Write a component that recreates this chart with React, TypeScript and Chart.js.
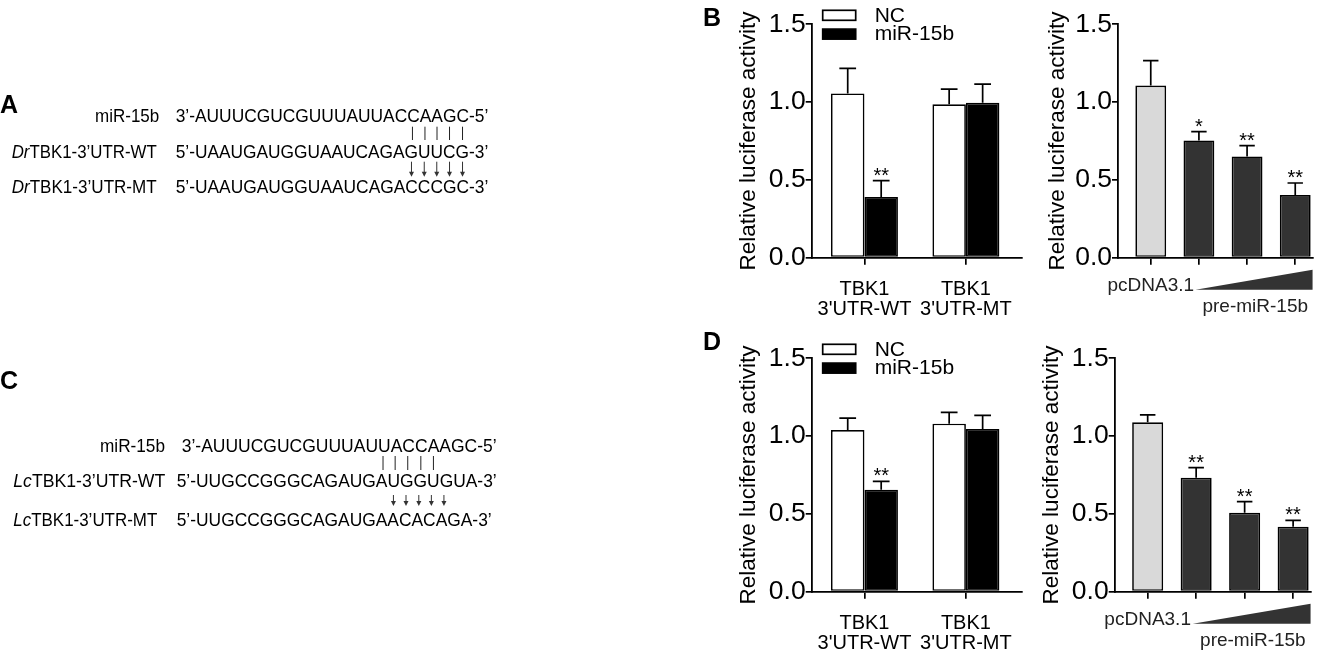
import React, { useEffect, useRef } from "react";
import { Chart, registerables } from "chart.js";

Chart.register(...registerables);

const FONT = "'Liberation Sans', Arial, Helvetica, sans-serif";

// ---------------- data ----------------
const groupLabels: string[][] = [["TBK1", "3'UTR-WT"], ["TBK1", "3'UTR-MT"]];
const seriesNames = ["NC", "miR-15b"];
const doseLabels = ["pcDNA3.1", "", "", ""];
const doseCaption = "pre-miR-15b";
const yTicks = [0, 0.5, 1.0, 1.5];
const yTitle = "Relative luciferase activity";

// Panel B
const bNC = [1.056, 0.986];
const bNCSd = [0.161, 0.098];
const bNCStars = ["", ""];
const bMiR = [0.39, 0.996];
const bMiRSd = [0.105, 0.12];
const bMiRStars = ["**", ""];
const bDose = [1.106, 0.754, 0.651, 0.403];
const bDoseSd = [0.16, 0.056, 0.069, 0.077];
const bDoseStars = ["", "*", "**", "**"];

// Panel D
const dNC = [1.039, 1.08];
const dNCSd = [0.077, 0.073];
const dNCStars = ["", ""];
const dMiR = [0.656, 1.046];
const dMiRSd = [0.053, 0.087];
const dMiRStars = ["**", ""];
const dDose = [1.089, 0.733, 0.508, 0.418];
const dDoseSd = [0.047, 0.064, 0.071, 0.041];
const dDoseStars = ["", "**", "**", "**"];

// Sequences (panels A and C)
const mirLabel = "miR-15b";
const mirSeq = "AUUUCGUCGUUUAUUACCAAGC";
const drWT = "UAAUGAUGGUAAUCAGAGUUCG";
const drMT = "UAAUGAUGGUAAUCAGACCCGC";
const lcWT = "UUGCCGGGCAGAUGAUGGUGUA";
const lcMT = "UUGCCGGGCAGAUGAACACAGA";
const drPairIdx = [17, 18, 19, 20, 21];
const drMutIdx = [17, 18, 19, 20, 21];
const lcPairIdx = [14, 15, 16, 17, 18];
const lcMutIdx = [15, 16, 17, 18, 19];

const NC_FILL = "#ffffff";
const MIR_FILL = "#000000";
const DOSE_FILLS = ["#d9d9d9", "#333333", "#333333", "#333333"];

// ---------------- chart helpers ----------------
type BarSeries = { name: string; values: number[]; sd: number[]; stars: string[]; fill: string | string[] };

interface PanelSpec {
  kind: "group" | "dose";
  left: number; top: number; width: number; height: number;
  padLeft: number; padRight: number; padTop: number;
  yWidth: number; xHeight: number;
  xMin: number; xMax: number;
  xLabels: (string | string[])[];
  series: BarSeries[];
  catPct: number; barPct: number;
  xFontSize: number; xPadding: number; xLineHeight: number; xColor: string;
}

function errorBarPlugin(series: BarSeries[]) {
  return {
    id: "errbars",
    afterDatasetsDraw(chart: any) {
      const ctx = chart.ctx;
      const ys = chart.scales.y;
      series.forEach((s, di) => {
        const meta = chart.getDatasetMeta(di);
        meta.data.forEach((el: any, i: number) => {
          const topPx = ys.getPixelForValue(s.values[i] + s.sd[i]);
          const half = el.width / 4;
          ctx.save();
          ctx.strokeStyle = "#000";
          ctx.lineWidth = 1.7;
          ctx.beginPath();
          ctx.moveTo(el.x, el.y);
          ctx.lineTo(el.x, topPx);
          ctx.moveTo(el.x - half, topPx);
          ctx.lineTo(el.x + half, topPx);
          ctx.stroke();
          if (s.stars[i]) {
            ctx.fillStyle = "#000";
            ctx.font = `20px ${FONT}`;
            ctx.textAlign = "center";
            ctx.textBaseline = "alphabetic";
            ctx.fillText(s.stars[i], el.x, topPx + 1);
          }
          ctx.restore();
        });
      });
    },
  };
}

function legendPlugin(series: BarSeries[]) {
  return {
    id: "grpLegend",
    afterDraw(chart: any) {
      const { ctx, chartArea } = chart;
      series.forEach((s, i) => {
        const bx = chartArea.left + 11;
        const by = chartArea.top - 14 + i * 18.8;
        ctx.save();
        ctx.fillStyle = s.fill as string;
        ctx.fillRect(bx, by, 33, 10);
        ctx.strokeStyle = "#000";
        ctx.lineWidth = 1.7;
        ctx.strokeRect(bx, by, 33, 10);
        ctx.fillStyle = "#000";
        ctx.font = `21px ${FONT}`;
        ctx.textAlign = "left";
        ctx.textBaseline = "middle";
        ctx.fillText(s.name, chartArea.left + 63, by + 5.5);
        ctx.restore();
      });
    },
  };
}

function dosePlugin() {
  return {
    id: "dose",
    afterDraw(chart: any) {
      const { ctx, chartArea } = chart;
      const xs = chart.scales.x;
      const x1 = xs.getPixelForValue(0.93);
      const x2 = xs.getPixelForValue(3.36);
      const b = chartArea.bottom;
      ctx.save();
      ctx.fillStyle = "#333";
      ctx.beginPath();
      ctx.moveTo(x1, b + 32);
      ctx.lineTo(x2, b + 12);
      ctx.lineTo(x2, b + 32);
      ctx.closePath();
      ctx.fill();
      ctx.font = `19px ${FONT}`;
      ctx.fillStyle = "#222";
      ctx.textAlign = "center";
      ctx.textBaseline = "middle";
      ctx.fillText(doseCaption, xs.getPixelForValue(2.17), b + 49.5);
      ctx.restore();
    },
  };
}

function buildConfig(spec: PanelSpec): any {
  const datasets = spec.series.map((s) => ({
    label: s.name,
    data: s.values,
    backgroundColor: s.fill,
    borderColor: "#000",
    borderWidth: 1.7,
    borderSkipped: false,
    categoryPercentage: spec.catPct,
    barPercentage: spec.barPct,
  }));
  const plugins: any[] = [errorBarPlugin(spec.series)];
  if (spec.kind === "group") plugins.push(legendPlugin(spec.series));
  else plugins.push(dosePlugin());
  return {
    type: "bar",
    data: { labels: spec.xLabels.map((_, i) => i), datasets },
    plugins,
    options: {
      responsive: false,
      animation: false,
      events: [],
      layout: { padding: { left: spec.padLeft, right: spec.padRight, top: spec.padTop, bottom: 0 } },
      plugins: { legend: { display: false }, tooltip: { enabled: false }, title: { display: false } },
      scales: {
        x: {
          type: "linear",
          offset: false,
          min: spec.xMin,
          max: spec.xMax,
          afterBuildTicks: (s: any) => {
            s.ticks = spec.xLabels.map((_, i) => ({ value: i }));
          },
          afterFit: (s: any) => {
            s.height = spec.xHeight;
          },
          ticks: {
            autoSkip: false,
            maxRotation: 0,
            minRotation: 0,
            callback: (_v: any, i: number) => spec.xLabels[i],
            color: spec.xColor,
            padding: spec.xPadding,
            font: { family: FONT, size: spec.xFontSize, lineHeight: spec.xLineHeight },
          },
          grid: { offset: false, drawOnChartArea: false, drawTicks: true, tickLength: 7, color: "#000", lineWidth: 1.7 },
          border: { display: true, color: "#000", width: 1.8 },
        },
        y: {
          min: 0,
          max: 1.5,
          afterBuildTicks: (s: any) => {
            s.ticks = yTicks.map((v) => ({ value: v }));
          },
          afterFit: (s: any) => {
            s.width = spec.yWidth;
          },
          ticks: {
            callback: (v: any) => Number(v).toFixed(1),
            color: "#000",
            padding: 0,
            font: { family: FONT, size: 26.5 },
          },
          grid: { drawOnChartArea: false, drawTicks: true, tickLength: 6, color: "#000", lineWidth: 1.7 },
          border: { display: true, color: "#000", width: 1.8 },
          title: {
            display: true,
            text: yTitle,
            color: "#000",
            padding: { top: 0, bottom: 0 },
            font: { family: FONT, size: 22.5 },
          },
        },
      },
    },
  };
}

const specs: PanelSpec[] = [
  {
    kind: "group", left: 700, top: 0, width: 330, height: 325,
    padLeft: 35, padRight: 8.3, padTop: 24.3, yWidth: 76.7, xHeight: 67.3,
    xMin: -0.52, xMax: 1.55, xLabels: groupLabels,
    series: [
      { name: seriesNames[0], values: bNC, sd: bNCSd, stars: bNCStars, fill: NC_FILL },
      { name: seriesNames[1], values: bMiR, sd: bMiRSd, stars: bMiRStars, fill: MIR_FILL },
    ],
    catPct: 0.66, barPct: 1, xFontSize: 20, xPadding: 14.3, xLineHeight: 1.0, xColor: "#000",
  },
  {
    kind: "dose", left: 1030, top: 0, width: 300, height: 325,
    padLeft: 14, padRight: 16.7, padTop: 24.3, yWidth: 74, xHeight: 67.3,
    xMin: -0.68, xMax: 3.375, xLabels: doseLabels,
    series: [{ name: "dose", values: bDose, sd: bDoseSd, stars: bDoseStars, fill: DOSE_FILLS }],
    catPct: 1, barPct: 0.64, xFontSize: 19, xPadding: 10, xLineHeight: 1.2, xColor: "#222",
  },
  {
    kind: "group", left: 700, top: 334, width: 330, height: 318,
    padLeft: 35, padRight: 8.3, padTop: 24.3, yWidth: 76.7, xHeight: 60.3,
    xMin: -0.52, xMax: 1.55, xLabels: groupLabels,
    series: [
      { name: seriesNames[0], values: dNC, sd: dNCSd, stars: dNCStars, fill: NC_FILL },
      { name: seriesNames[1], values: dMiR, sd: dMiRSd, stars: dMiRStars, fill: MIR_FILL },
    ],
    catPct: 0.66, barPct: 1, xFontSize: 20, xPadding: 14.3, xLineHeight: 1.0, xColor: "#000",
  },
  {
    kind: "dose", left: 1028, top: 334, width: 300, height: 318,
    padLeft: 10.5, padRight: 16.7, padTop: 24.3, yWidth: 76.2, xHeight: 60.3,
    xMin: -0.68, xMax: 3.375, xLabels: doseLabels,
    series: [{ name: "dose", values: dDose, sd: dDoseSd, stars: dDoseStars, fill: DOSE_FILLS }],
    catPct: 1, barPct: 0.64, xFontSize: 19, xPadding: 10, xLineHeight: 1.2, xColor: "#222",
  },
];

function ChartPanel({ spec }: { spec: PanelSpec }) {
  const ref = useRef<HTMLCanvasElement>(null);
  useEffect(() => {
    const canvas = ref.current;
    if (!canvas) return;
    const chart = new Chart(canvas, buildConfig(spec));
    return () => chart.destroy();
  }, [spec]);
  return (
    <canvas
      ref={ref}
      width={spec.width}
      height={spec.height}
      style={{ position: "absolute", left: spec.left, top: spec.top, width: spec.width, height: spec.height }}
    />
  );
}

// ---------------- sequence panels ----------------
const SEQ_SIZE = 18.4;
const SEQ_FONT = `${SEQ_SIZE}px ${FONT}`;
let measureCtx: CanvasRenderingContext2D | null = null;
function textWidth(s: string): number {
  if (!measureCtx) measureCtx = document.createElement("canvas").getContext("2d");
  if (!measureCtx) return s.length * SEQ_SIZE * 0.7;
  measureCtx.font = SEQ_FONT;
  return measureCtx.measureText(s).width;
}
function charCenter(full: string, idx: number, startX: number, target: number): number {
  const k = target / textWidth(full);
  return startX + (textWidth(full.slice(0, idx)) + textWidth(full[idx]) / 2) * k;
}

interface SeqSpec {
  baselines: number[];
  mirLeft: number;
  mirWidth: number;
  labelLeft: number;
  labelWidths: number[];
  italic: string;
  starts: number[];
  widths: number[];
  wt: string;
  mt: string;
  pairIdx: number[];
  mutIdx: number[];
  lineY: [number, number];
  arrowY: [number, number];
}

function SeqPanel({ s }: { s: SeqSpec }) {
  const rows = [`3’-${mirSeq}-5’`, `5’-${s.wt}-3’`, `5’-${s.mt}-3’`];
  const cx = (r: number, i: number) => charCenter(rows[r], i + 3, s.starts[r], s.widths[r]);
  const lines = s.pairIdx.map((i) => (cx(0, i) + cx(1, i)) / 2);
  const arrows = s.mutIdx.map((i) => (cx(1, i) + cx(2, i)) / 2);
  return (
    <g fontFamily={FONT} fontSize={SEQ_SIZE} fill="#000">
      <text x={s.mirLeft} y={s.baselines[0]} textLength={s.mirWidth} lengthAdjust="spacingAndGlyphs">
        {mirLabel}
      </text>
      <text x={s.labelLeft} y={s.baselines[1]} textLength={s.labelWidths[0]} lengthAdjust="spacingAndGlyphs">
        <tspan fontStyle="italic">{s.italic}</tspan>TBK1-3’UTR-WT
      </text>
      <text x={s.labelLeft} y={s.baselines[2]} textLength={s.labelWidths[1]} lengthAdjust="spacingAndGlyphs">
        <tspan fontStyle="italic">{s.italic}</tspan>TBK1-3’UTR-MT
      </text>
      {rows.map((r, k) => (
        <text key={k} x={s.starts[k]} y={s.baselines[k]} textLength={s.widths[k]} lengthAdjust="spacingAndGlyphs">
          {r}
        </text>
      ))}
      {lines.map((x, k) => (
        <line key={"l" + k} x1={x} x2={x} y1={s.lineY[0]} y2={s.lineY[1]} stroke="#222" strokeWidth={1} />
      ))}
      {arrows.map((x, k) => (
        <g key={"a" + k}>
          <line x1={x} x2={x} y1={s.arrowY[0]} y2={s.arrowY[1] - 4} stroke="#333" strokeWidth={1} />
          <polygon
            points={`${x - 2.5},${s.arrowY[1] - 5} ${x + 2.5},${s.arrowY[1] - 5} ${x},${s.arrowY[1]}`}
            fill="#333"
          />
        </g>
      ))}
    </g>
  );
}

const seqA: SeqSpec = {
  baselines: [121.6, 158.3, 193.3], mirLeft: 95, mirWidth: 64.3, labelLeft: 11.7, labelWidths: [145, 145],
  italic: "Dr", starts: [175.7, 175.7, 175.7], widths: [312.6, 312.6, 312.6],
  wt: drWT, mt: drMT, pairIdx: drPairIdx, mutIdx: drMutIdx,
  lineY: [126.7, 140], arrowY: [161.7, 176.7],
};
const seqC: SeqSpec = {
  baselines: [451.6, 486.9, 525.6], mirLeft: 100, mirWidth: 65, labelLeft: 13.3, labelWidths: [152, 144],
  italic: "Lc", starts: [181.7, 176.7, 176.7], widths: [315, 320, 315],
  wt: lcWT, mt: lcMT, pairIdx: lcPairIdx, mutIdx: lcMutIdx,
  lineY: [456, 470], arrowY: [495, 506],
};

export default function App() {
  useEffect(() => {
    document.body.style.margin = "0";
    document.body.style.background = "#fff";
  }, []);
  return (
    <div style={{ position: "fixed", left: 0, top: 0, width: 1330, height: 652, background: "#fff", overflow: "hidden" }}>
      {specs.map((sp, i) => (
        <ChartPanel key={i} spec={sp} />
      ))}
      <svg
        width={1330}
        height={652}
        style={{ position: "absolute", left: 0, top: 0, pointerEvents: "none" }}
      >
        <g fontFamily={FONT} fontWeight="bold" fontSize={25} fill="#000">
          <text x={0} y={113}>A</text>
          <text x={0} y={389}>C</text>
          <text x={703} y={26}>B</text>
          <text x={703} y={350}>D</text>
        </g>
        <SeqPanel s={seqA} />
        <SeqPanel s={seqC} />
      </svg>
    </div>
  );
}
